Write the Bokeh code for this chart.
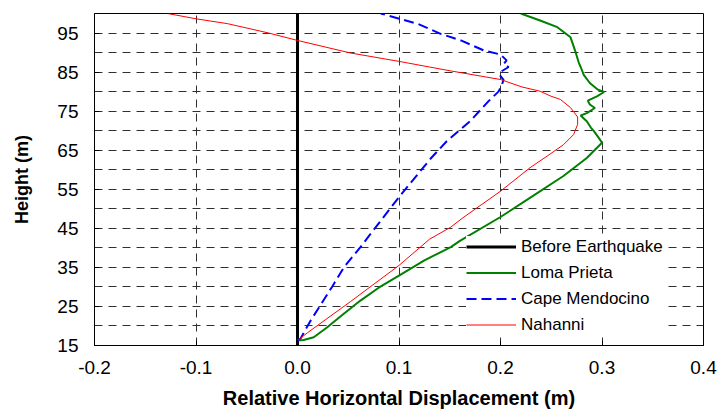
from bokeh.plotting import figure
from bokeh.models import Range1d, FixedTicker, PrintfTickFormatter
from bokeh.embed import file_html
from bokeh.resources import INLINE

# ---- data ----
before_x = [0.0, 0.0]
before_y = [15, 100]

loma_x = [0.000, 0.006, 0.016, 0.029, 0.045, 0.062, 0.080, 0.100, 0.125, 0.151, 0.160,
          0.200, 0.229, 0.262, 0.285, 0.300, 0.297, 0.292, 0.289, 0.285, 0.279, 0.285,
          0.293, 0.288, 0.286, 0.295, 0.302, 0.296, 0.288, 0.282, 0.279, 0.277, 0.274,
          0.269, 0.256, 0.239, 0.220]
loma_y = [16.3, 16.4, 17.1, 19.6, 23.0, 26.5, 29.8, 32.9, 36.8, 40.2, 41.8,
          47.9, 52.8, 58.4, 63.0, 66.9, 68.1, 69.9, 70.8, 72.4, 73.9, 74.5,
          75.8, 76.7, 77.7, 78.8, 79.9, 80.5, 82.2, 84.3, 86.3, 87.5, 90.1,
          93.9, 96.5, 98.2, 100.0]

cape_x = [0.000, 0.003, 0.013, 0.034, 0.046, 0.062, 0.100, 0.131, 0.147, 0.170, 0.188,
          0.198, 0.201, 0.203, 0.199, 0.201, 0.208, 0.203, 0.206, 0.200, 0.184, 0.161,
          0.141, 0.118, 0.101, 0.082]
cape_y = [16.3, 16.8, 21.4, 30.0, 35.1, 40.2, 53.0, 62.8, 67.3, 72.4, 77.5,
          80.0, 81.5, 83.0, 84.3, 85.2, 86.3, 87.0, 88.0, 89.5, 90.5, 93.1,
          94.8, 97.4, 98.6, 100.0]

nahanni_x = [0.000, 0.010, 0.052, 0.100, 0.130, 0.151, 0.163, 0.200, 0.229, 0.246, 0.262,
             0.272, 0.276, 0.276, 0.269, 0.259, 0.249, 0.239, 0.221, 0.200, 0.180, 0.151,
             0.130, 0.101, 0.052, 0.000, -0.030, -0.069, -0.099, -0.128]
nahanni_y = [16.3, 18.3, 26.2, 35.5, 42.2, 45.3, 47.7, 54.5, 60.5, 63.5, 66.4,
             69.0, 71.6, 73.5, 75.9, 78.0, 78.9, 80.1, 81.2, 83.1, 84.0, 85.3,
             86.3, 87.7, 89.9, 93.1, 95.1, 97.4, 98.6, 100.0]

x_ticks = [-0.2, -0.1, 0.0, 0.1, 0.2, 0.3, 0.4]
y_ticks = [15, 25, 35, 45, 55, 65, 75, 85, 95]
y_minor = [20, 30, 40, 50, 60, 70, 80, 90, 100]

FONT = "Liberation Sans"

p = figure(width=718, height=414, output_backend="svg", toolbar_location=None,
           x_range=Range1d(-0.2, 0.4), y_range=Range1d(15, 100),
           min_border_left=94, min_border_right=15, min_border_top=13, min_border_bottom=69)
p.outline_line_color = "black"
p.outline_line_width = 1
p.background_fill_color = "white"
p.border_fill_color = "white"

# axes
p.xaxis.ticker = FixedTicker(ticks=x_ticks)
p.xaxis.formatter = PrintfTickFormatter(format="%.1f")
p.yaxis.ticker = FixedTicker(ticks=y_ticks, minor_ticks=y_minor)
for ax in (p.xaxis[0], p.yaxis[0]):
    ax.axis_line_color = "black"
    ax.major_tick_line_color = "black"
    ax.major_tick_in = 5
    ax.major_tick_out = 0
    ax.minor_tick_in = 0
    ax.minor_tick_out = 0
    ax.major_label_text_font = FONT
    ax.major_label_text_font_size = "19px"
    ax.major_label_text_color = "black"
    ax.axis_label_text_font = FONT
    ax.axis_label_text_font_style = "bold"
    ax.axis_label_text_color = "black"
p.xaxis.axis_label = "Relative Horizontal Displacement (m)"
p.yaxis.axis_label = "Height (m)"
p.xaxis.axis_label_text_font_size = "20px"
p.yaxis.axis_label_text_font_size = "18px"
p.xaxis.major_label_standoff = 15
p.xaxis.axis_label_standoff = 10
p.yaxis.major_label_standoff = 16
p.yaxis.axis_label_standoff = 22

# grids
for g in (p.xgrid[0], p.ygrid[0]):
    g.grid_line_color = "#303030"
    g.grid_line_dash = "8 6"
    g.grid_line_width = 1
p.ygrid.minor_grid_line_color = "#303030"
p.ygrid.minor_grid_line_dash = "8 6"
p.ygrid.minor_grid_line_width = 1

# series
p.line(before_x, before_y, line_color="black", line_width=3, legend_label="Before Earthquake")
p.line(loma_x, loma_y, line_color="#008000", line_width=2, legend_label="Loma Prieta")
p.line(cape_x, cape_y, line_color="#0000ff", line_width=2, line_dash="10 5", legend_label="Cape Mendocino")
p.line(nahanni_x, nahanni_y, line_color="#ff0000", line_width=1, legend_label="Nahanni")

lg = p.legend[0]
lg.location = (372, 10)
lg.margin = 0
lg.padding = 10
lg.spacing = 5
lg.glyph_width = 50
lg.glyph_height = 21
lg.label_height = 21
lg.label_standoff = 5
lg.label_text_font = FONT
lg.label_text_font_size = "17px"
lg.label_text_color = "black"
lg.border_line_color = None
lg.background_fill_color = "white"
lg.background_fill_alpha = 1.0

open("out.html", "w").write(file_html(p, INLINE))
